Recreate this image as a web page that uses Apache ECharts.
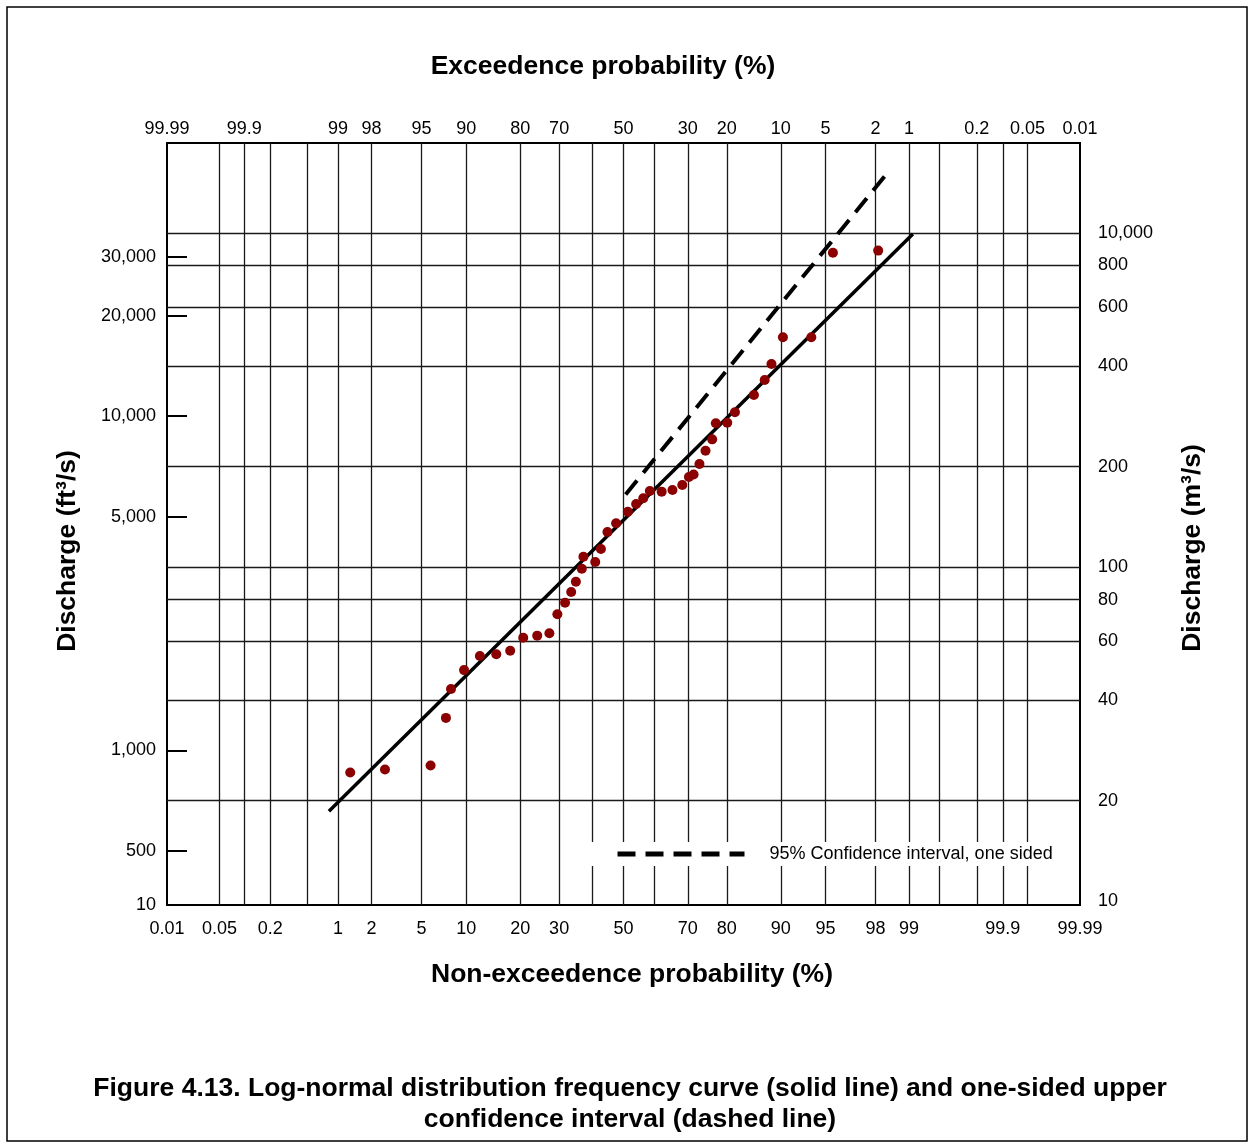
<!DOCTYPE html>
<html><head><meta charset="utf-8">
<script src="https://cdn.jsdelivr.net/npm/echarts@6/dist/echarts.min.js"></script>
<style>html,body{margin:0;padding:0;background:#fff}#c{width:1254px;height:1148px}</style>
</head><body><div id="c"></div>
<script>
// ---------------- data ----------------
const nonExceedancePct = [1.3, 2.6, 5.8, 7.4, 8.0, 9.7, 12.1, 15.0, 17.8, 20.7, 24.1, 27.3, 29.5, 31.7, 33.5,
  34.9, 36.7, 37.2, 40.9, 42.7, 44.8, 47.6, 51.4, 54.1, 56.4, 58.5, 62.2, 65.5, 68.4, 70.3,
  71.6, 73.2, 74.8, 76.5, 77.4, 80.1, 81.8, 85.6, 87.5, 88.6, 90.3, 93.7, 95.6, 98.1];
const dischargeM3s = [24.3, 24.8, 25.5, 35.4, 43.2, 49.2, 54.2, 54.9, 56.2, 61.5, 62.4, 63.4, 72.3, 78.3, 84.3,
  90.5, 98.9, 107.5, 103.6, 113.3, 127.4, 135.3, 146.6, 154.5, 160.8, 169.0, 168.3, 170.2, 176.2, 186.2,
  189.4, 203.6, 223.2, 241.3, 269.5, 270.6, 290.8, 327.6, 363.3, 405.7, 487.5, 487.5, 873, 886];
const fitLinePct = [0.82, 99.08];
const fitLineQ = [18.6, 994];
const ciLinePct = [50.7, 98.34];
const ciLineQ = [165, 1482];

const gridPct = [0.05, 0.1, 0.2, 0.5, 1, 2, 5, 10, 20, 30, 40, 50, 60, 70, 80, 90, 95, 98, 99, 99.5, 99.8, 99.9, 99.95];
const bottomTickPct = [0.01, 0.05, 0.2, 1, 2, 5, 10, 20, 30, 50, 70, 80, 90, 95, 98, 99, 99.9, 99.99];
const bottomTickLabels = ['0.01', '0.05', '0.2', '1', '2', '5', '10', '20', '30', '50', '70', '80', '90', '95', '98', '99', '99.9', '99.99'];
const topTickExcPct = [99.99, 99.9, 99, 98, 95, 90, 80, 70, 50, 30, 20, 10, 5, 2, 1, 0.2, 0.05, 0.01];
const topTickLabels = ['99.99', '99.9', '99', '98', '95', '90', '80', '70', '50', '30', '20', '10', '5', '2', '1', '0.2', '0.05', '0.01'];
const gridQ = [20, 40, 60, 80, 100, 200, 400, 600, 800, 1000];
const rightTickQ = [10, 20, 40, 60, 80, 100, 200, 400, 600, 800, 1000];
const rightTickLabels = ['10', '20', '40', '60', '80', '100', '200', '400', '600', '800', '10,000'];
const leftTickFt3s = [500, 1000, 5000, 10000, 20000, 30000];
const leftTickLabels = ['500', '1,000', '5,000', '10,000', '20,000', '30,000'];
const leftMinLabel = '10';
const FT3_PER_M3 = 35.3147;
const pctMin = 0.01, pctMax = 99.99;
const qMin = 9.75, qMax = 1860;
const CI_NAME = '95% Confidence interval, one sided';

// ---------------- helpers ----------------
function probit(p) {
  const a = [-3.969683028665376e+01, 2.209460984245205e+02, -2.759285104469687e+02, 1.383577518672690e+02, -3.066479806614716e+01, 2.506628277459239e+00];
  const b = [-5.447609879822406e+01, 1.615858368580409e+02, -1.556989798598866e+02, 6.680131188771972e+01, -1.328068155288572e+01];
  const c = [-7.784894002430293e-03, -3.223964580411365e-01, -2.400758277161838e+00, -2.549732539343734e+00, 4.374664141464968e+00, 2.938163982698783e+00];
  const d = [7.784695709041462e-03, 3.224671290700398e-01, 2.445134137142996e+00, 3.754408661907416e+00];
  const pl = 0.02425, ph = 1 - pl;
  let q, r;
  if (p < pl) { q = Math.sqrt(-2 * Math.log(p)); return (((((c[0]*q+c[1])*q+c[2])*q+c[3])*q+c[4])*q+c[5]) / ((((d[0]*q+d[1])*q+d[2])*q+d[3])*q+1); }
  if (p <= ph) { q = p - 0.5; r = q*q; return (((((a[0]*r+a[1])*r+a[2])*r+a[3])*r+a[4])*r+a[5])*q / (((((b[0]*r+b[1])*r+b[2])*r+b[3])*r+b[4])*r+1); }
  q = Math.sqrt(-2 * Math.log(1 - p)); return -(((((c[0]*q+c[1])*q+c[2])*q+c[3])*q+c[4])*q+c[5]) / ((((d[0]*q+d[1])*q+d[2])*q+d[3])*q+1);
}
const zOf = pct => probit(pct / 100);
const lg = v => Math.log10(v);
function nearestLabel(v, vals, labels) {
  let bi = 0, bd = Infinity;
  vals.forEach((x, i) => { const dd = Math.abs(x - v); if (dd < bd) { bd = dd; bi = i; } });
  return labels[bi];
}
const MAIN = 'Liberation Sans, Arial, sans-serif';
const tickSize = 18;

const xMin = zOf(pctMin), xMax = zOf(pctMax);
const yMin = lg(qMin), yMax = lg(qMax);
const gridZ = gridPct.map(zOf);
const bottomZ = bottomTickPct.map(zOf);
const topZ = topTickExcPct.map(e => zOf(100 - e));
const gridLogQ = gridQ.map(lg);
const rightLogQ = rightTickQ.map(lg);
const leftLogQ = leftTickFt3s.map(v => lg(v / FT3_PER_M3));
const leftLabelVals = [yMin].concat(leftLogQ);
const leftLabelTexts = [leftMinLabel].concat(leftTickLabels);

const points = nonExceedancePct.map((p, i) => [zOf(p), lg(dischargeM3s[i])]);
const fitData = fitLinePct.map((p, i) => [zOf(p), lg(fitLineQ[i])]);
const ciData = ciLinePct.map((p, i) => [zOf(p), lg(ciLineQ[i])]);

const tickText = { fontFamily: MAIN, fontSize: tickSize, color: '#000' };
const gridLine = { color: '#1a1a1a', width: 1.3 };

const chart = echarts.init(document.getElementById('c'), null, { renderer: 'canvas' });
chart.setOption({
  backgroundColor: '#fff',
  animation: false,
  grid: { left: 167, right: 174, top: 143, bottom: 243, show: true, borderColor: '#000', borderWidth: 2, backgroundColor: 'transparent' },
  xAxis: [
    {
      type: 'value', position: 'bottom', min: xMin, max: xMax,
      axisLine: { show: false, onZero: false },
      axisTick: { show: false, customValues: gridZ },
      splitLine: { show: true, lineStyle: gridLine },
      axisLabel: Object.assign({ customValues: bottomZ, margin: 15,
        formatter: v => nearestLabel(v, bottomZ, bottomTickLabels) }, tickText)
    },
    {
      type: 'value', position: 'top', min: xMin, max: xMax,
      axisLine: { show: false, onZero: false },
      axisTick: { show: false, customValues: topZ },
      splitLine: { show: false },
      axisLabel: Object.assign({ customValues: topZ, margin: 5,
        formatter: v => nearestLabel(v, topZ, topTickLabels) }, tickText)
    }
  ],
  yAxis: [
    {
      type: 'value', position: 'left', min: yMin, max: yMax,
      axisLine: { show: false, onZero: false },
      axisTick: { show: true, inside: true, length: 20, customValues: leftLogQ, lineStyle: { color: '#000', width: 2 } },
      splitLine: { show: false },
      axisLabel: Object.assign({ customValues: leftLabelVals, margin: 11,
        formatter: v => nearestLabel(v, leftLabelVals, leftLabelTexts) }, tickText)
    },
    {
      type: 'value', position: 'right', min: yMin, max: yMax,
      axisLine: { show: false, onZero: false },
      axisTick: { show: false, customValues: gridLogQ },
      splitLine: { show: true, lineStyle: gridLine },
      axisLabel: Object.assign({ customValues: rightLogQ, margin: 18,
        formatter: v => nearestLabel(v, rightLogQ, rightTickLabels) }, tickText)
    }
  ],
  legend: {
    data: [CI_NAME],
    left: 588, top: 842, padding: [3, 14, 3, 27],
    backgroundColor: '#fff',
    itemWidth: 127, itemHeight: 18,
    itemStyle: { color: 'rgba(0,0,0,0)', borderWidth: 0, opacity: 0 },
    lineStyle: { color: '#000', width: 5, type: [18, 10], cap: 'butt' },
    textStyle: { fontFamily: MAIN, fontSize: 18, color: '#000', padding: [0, 0, 0, 20] },
    selectedMode: false
  },
  series: [
    {
      name: 'Annual peaks', type: 'scatter', xAxisIndex: 0, yAxisIndex: 1,
      data: points, symbol: 'circle', symbolSize: 10,
      itemStyle: { color: '#8b0000', opacity: 1 }, z: 5
    },
    {
      name: 'Log-normal fit', type: 'line', xAxisIndex: 0, yAxisIndex: 1,
      data: fitData, showSymbol: false, symbol: 'none',
      lineStyle: { color: '#000', width: 3.5 }, z: 4
    },
    {
      name: CI_NAME, type: 'line', xAxisIndex: 0, yAxisIndex: 1,
      data: ciData, showSymbol: false, symbol: 'none',
      lineStyle: { color: '#000', width: 4, type: [18, 10] },
      itemStyle: { color: '#000' }, z: 4
    }
  ],
  graphic: [
    { type: 'rect', shape: { x: 7, y: 7, width: 1240, height: 1134 }, style: { fill: 'none', stroke: '#000', lineWidth: 1.5 }, silent: true },
    { type: 'text', x: 603, y: 67, style: { text: 'Exceedence probability (%)', font: 'bold 26.5px ' + MAIN, fill: '#000', align: 'center', verticalAlign: 'middle' } },
    { type: 'text', x: 632, y: 975, style: { text: 'Non-exceedence probability (%)', font: 'bold 26.5px ' + MAIN, fill: '#000', align: 'center', verticalAlign: 'middle' } },
    { type: 'text', x: 68, y: 551, rotation: Math.PI / 2, style: { text: 'Discharge (ft³/s)', font: 'bold 26.5px ' + MAIN, fill: '#000', align: 'center', verticalAlign: 'middle' } },
    { type: 'text', x: 1193, y: 548, rotation: Math.PI / 2, style: { text: 'Discharge (m³/s)', font: 'bold 26.5px ' + MAIN, fill: '#000', align: 'center', verticalAlign: 'middle' } },
    { type: 'text', x: 630, y: 1089, style: { text: 'Figure 4.13. Log-normal distribution frequency curve (solid line) and one-sided upper', font: 'bold 26.5px ' + MAIN, fill: '#000', align: 'center', verticalAlign: 'middle' } },
    { type: 'text', x: 630, y: 1120, style: { text: 'confidence interval (dashed line)', font: 'bold 26.5px ' + MAIN, fill: '#000', align: 'center', verticalAlign: 'middle' } }
  ]
});
</script></body></html>
